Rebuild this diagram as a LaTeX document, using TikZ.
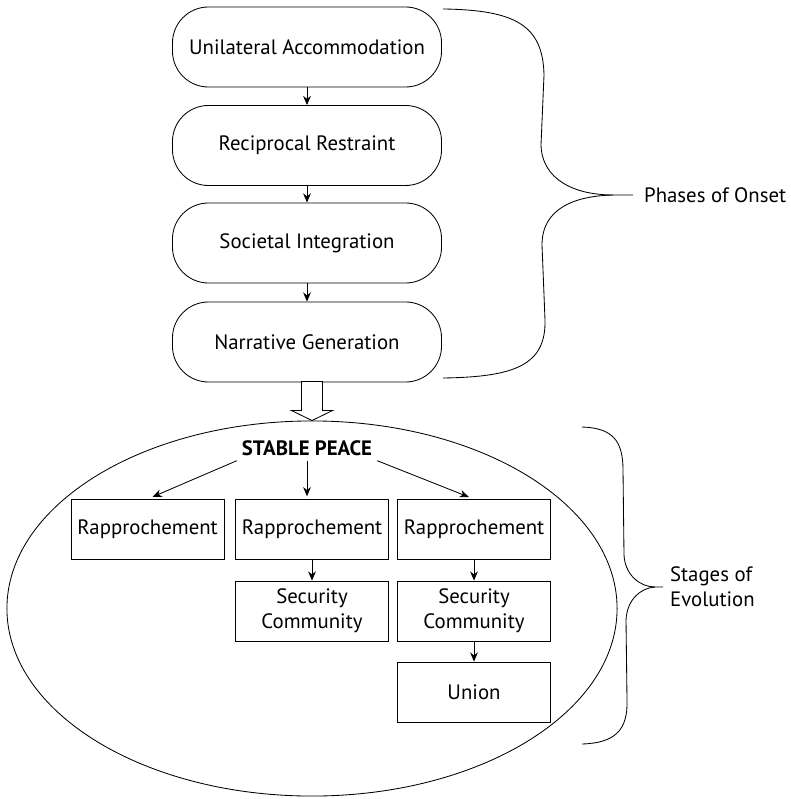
\documentclass[tikz,border=0pt]{standalone}
\usepackage{fontspec}
\setmainfont{PT Sans}
\usetikzlibrary{arrows.meta,shapes.geometric}

\tikzset{
  phase/.style={draw, rounded corners=0.9cm, minimum width=6.725cm, minimum height=2cm, align=center},
  stagebox/.style={draw, minimum width=3.825cm, minimum height=1.5cm, align=center},
  arr/.style={-{Stealth[length=6.5pt,width=5.5pt]}},
}

\begin{document}
\begin{tikzpicture}[x=0.025cm, y=-0.025cm, line width=0.6pt, font=\fontsize{14.8}{17.8}\selectfont]

\useasboundingbox (0,0) rectangle (790,799);

% Phasen des Beginns
\node[phase] (ua) at (307,47)    {Unilateral Accommodation};
\node[phase] (rr) at (307,145.5) {Reciprocal Restraint};
\node[phase] (si) at (307,243)   {Societal Integration};
\node[phase] (ng) at (307,342)   {Narrative Generation};

\foreach \a/\b in {ua/rr, rr/si, si/ng}
    \draw[arr] (\a) -- (\b);

% Stabiler Frieden
\node[draw, ellipse, inner sep=0pt, minimum width=15.25cm, minimum height=9.375cm] (area) at (312,608.5) {};

\draw[fill=white] (area.north) -- ++(-20.5,-10) -- ++(10,0) -- ++(0,-29)
    -- ++(21,0) -- ++(0,29) -- ++(10,0) -- cycle;

\node (peace) at (307,448) {\textbf{STABLE PEACE}};

\node[stagebox] (ra) at (147.5,529.5) {Rapprochement};
\node[stagebox] (rb) at (312,529.5)   {Rapprochement};
\node[stagebox] (rc) at (474,529.5)   {Rapprochement};
\node[stagebox] (sb) at (312,611)     {Security\\Community};
\node[stagebox] (sc) at (474,611)     {Security\\Community};
\node[stagebox] (un) at (474,692)     {Union};

\draw[arr, shorten >=4pt] (peace.south west) -- (ra.north);
\draw[arr, shorten >=2pt] (peace.south) -- (peace.south |- rb.north);
\draw[arr, shorten >=4pt] (peace.south east) -- (rc.north);
\draw[arr] (rb) -- (sb);
\draw[arr] (rc) -- (sc);
\draw[arr] (sc) -- (un);

% Klammern
\draw (443,9) .. controls (515,10) and (543,25) .. (544,75) -- (541,145)
    .. controls (542,180) and (575,195) .. (613,195) -- (633,195) coordinate (onsettip);
\draw (613,195) .. controls (575,196) and (542,208) .. (542,245) -- (545,320)
    .. controls (546,365) and (515,377) .. (443,378);
\node[anchor=west] (onset) at ([xshift=0.15cm]onsettip) {Phases of Onset};

\draw (582,427) .. controls (612,428) and (623,440) .. (623,470) -- (624,555)
    .. controls (625,575) and (640,587) .. (655,587) -- (663,587) coordinate (evotip);
\draw (655,587) .. controls (640,588) and (627,600) .. (626,620) -- (627,700)
    .. controls (628,730) and (615,743) .. (582,744);
\node[anchor=west, align=left] (evolution) at ([xshift=0.05cm]evotip) {Stages of\\Evolution};

\end{tikzpicture}
\end{document}
